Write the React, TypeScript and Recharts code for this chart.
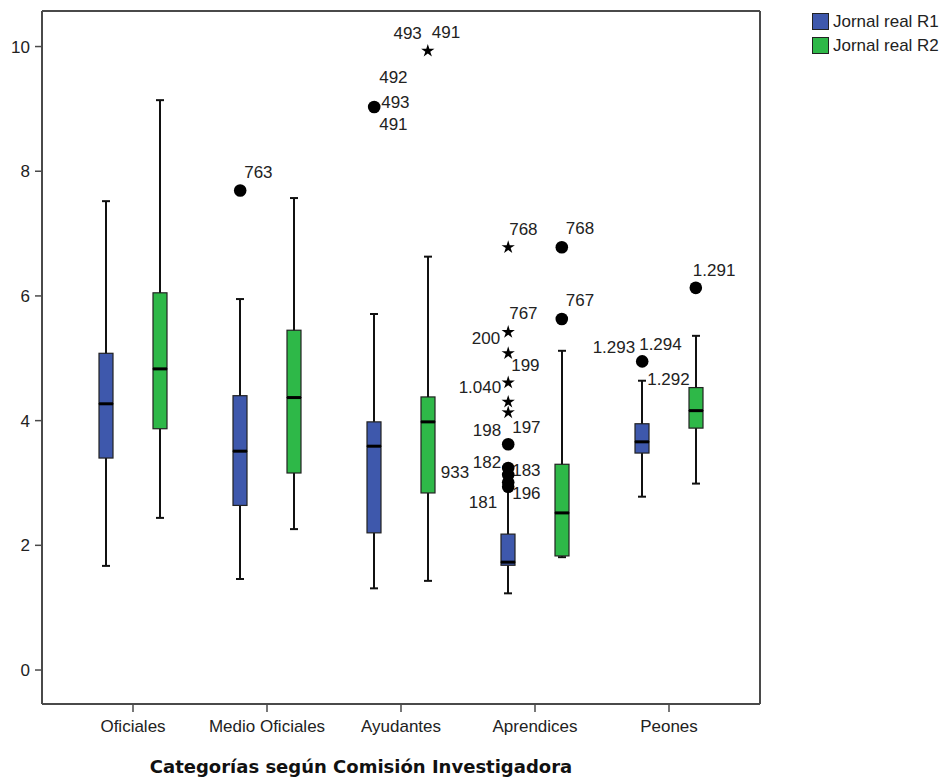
import React from 'react';
import { ComposedChart, Bar, Scatter, XAxis, YAxis } from 'recharts';

if (typeof document !== 'undefined') {
  document.body.style.margin = '0';
}

const FONT = '"Liberation Sans", Arial, Helvetica, sans-serif';

const categories = ['Oficiales', 'Medio Oficiales', 'Ayudantes', 'Aprendices', 'Peones'];

// Jornal real R1
const r1Min = [1.67, 1.46, 1.31, 1.23, 2.78];
const r1Q1 = [3.4, 2.64, 2.2, 1.68, 3.48];
const r1Median = [4.27, 3.51, 3.59, 1.73, 3.66];
const r1Q3 = [5.08, 4.4, 3.98, 2.18, 3.95];
const r1Max = [7.52, 5.95, 5.71, 2.91, 4.64];

// Jornal real R2
const r2Min = [2.44, 2.26, 1.43, 1.81, 2.99];
const r2Q1 = [3.87, 3.16, 2.84, 1.83, 3.88];
const r2Median = [4.83, 4.37, 3.98, 2.52, 4.16];
const r2Q3 = [6.05, 5.45, 4.38, 3.3, 4.53];
const r2Max = [9.14, 7.57, 6.63, 5.12, 5.36];

const yTicks = [0, 2, 4, 6, 8, 10];

const seriesNames = ['Jornal real R1', 'Jornal real R2'];
const seriesColors = ['#3E58AC', '#2EB848'];

// outliers: category index, series, value, marker, case labels
const outliers = [
  { cat: 1, series: 'R1', value: 7.69, marker: 'circle', labels: ['763'] },
  { cat: 2, series: 'R1', value: 9.03, marker: 'circle', labels: ['492', '493', '491'] },
  { cat: 2, series: 'R2', value: 9.93, marker: 'star', labels: ['493', '491'] },
  { cat: 3, series: 'R1', value: 6.78, marker: 'star', labels: ['768'] },
  { cat: 3, series: 'R1', value: 5.42, marker: 'star', labels: ['767', '200'] },
  { cat: 3, series: 'R1', value: 5.08, marker: 'star', labels: ['199'] },
  { cat: 3, series: 'R1', value: 4.61, marker: 'star', labels: ['1.040'] },
  { cat: 3, series: 'R1', value: 4.3, marker: 'star', labels: [] as string[] },
  { cat: 3, series: 'R1', value: 4.13, marker: 'star', labels: ['197'] },
  { cat: 3, series: 'R1', value: 3.62, marker: 'circle', labels: ['198'] },
  { cat: 3, series: 'R1', value: 3.24, marker: 'circle', labels: ['182', '183'] },
  { cat: 3, series: 'R1', value: 3.13, marker: 'circle', labels: ['933'] },
  { cat: 3, series: 'R1', value: 3.01, marker: 'circle', labels: [] as string[] },
  { cat: 3, series: 'R1', value: 2.94, marker: 'circle', labels: ['196', '181'] },
  { cat: 3, series: 'R2', value: 6.78, marker: 'circle', labels: ['768'] },
  { cat: 3, series: 'R2', value: 5.63, marker: 'circle', labels: ['767'] },
  { cat: 4, series: 'R1', value: 4.95, marker: 'circle', labels: ['1.293', '1.294', '1.292'] },
  { cat: 4, series: 'R2', value: 6.13, marker: 'circle', labels: ['1.291'] },
];

// label placement for each outlier label: [anchor, dx, dy]
const outlierLabelLayout: [string, number, number][][] = [
  [['start', 4, -19]],
  [['start', 5, -30], ['start', 7, -5], ['start', 5, 17]],
  [['end', -6, -18], ['start', 4, -19]],
  [['start', 1, -18]],
  [['start', 1, -19], ['end', -8, 6]],
  [['start', 3, 12]],
  [['end', -7, 4]],
  [],
  [['start', 4, 14]],
  [['end', -7, -14]],
  [['end', -7, -6], ['start', 4, 2]],
  [['end', -39, -3]],
  [],
  [['start', 4, 6], ['end', -11, 15]],
  [['start', 4, -19]],
  [['start', 4, -19]],
  [['end', -7, -15], ['start', -3, -18], ['start', 5, 17]],
  [['start', -3, -18]],
];

const SERIES_OFFSET = 0.2;

const boxData = categories.map((c, i) => ({
  cat: c,
  r1Base: r1Min[i],
  r1Low: r1Q1[i] - r1Min[i],
  r1BoxLow: r1Median[i] - r1Q1[i],
  r1BoxUp: r1Q3[i] - r1Median[i],
  r1Up: r1Max[i] - r1Q3[i],
  r2Base: r2Min[i],
  r2Low: r2Q1[i] - r2Min[i],
  r2BoxLow: r2Median[i] - r2Q1[i],
  r2BoxUp: r2Q3[i] - r2Median[i],
  r2Up: r2Max[i] - r2Q3[i],
}));

const outlierData = outliers.map((o, i) => ({
  x: o.cat + (o.series === 'R1' ? -SERIES_OFFSET : SERIES_OFFSET),
  y: o.value,
  marker: o.marker,
  labels: o.labels,
  layout: outlierLabelLayout[i],
}));

const FRAME = '#4a4a4a';
const INK = '#111111';

const EmptyShape = () => <g />;

const LowWhisker = (p: any) => {
  const { x, y, width, height } = p;
  const cx = x + width / 2;
  return (
    <g>
      <line x1={cx} x2={cx} y1={y} y2={y + height} stroke={INK} strokeWidth={2} />
      <line x1={cx - 4} x2={cx + 4} y1={y + height} y2={y + height} stroke={INK} strokeWidth={2} />
    </g>
  );
};

const UpWhisker = (p: any) => {
  const { x, y, width, height } = p;
  const cx = x + width / 2;
  return (
    <g>
      <line x1={cx} x2={cx} y1={y} y2={y + height} stroke={INK} strokeWidth={2} />
      <line x1={cx - 4} x2={cx + 4} y1={y} y2={y} stroke={INK} strokeWidth={2} />
    </g>
  );
};

const makeBoxLow = (fill: string) => (p: any) => {
  const { x, y, width, height } = p;
  return <rect x={x} y={y} width={width} height={Math.max(height, 0)} fill={fill} stroke="#222" strokeWidth={1.2} />;
};

const makeBoxUp = (fill: string) => (p: any) => {
  const { x, y, width, height } = p;
  return (
    <g>
      <rect x={x} y={y} width={width} height={Math.max(height, 0)} fill={fill} stroke="#222" strokeWidth={1.2} />
      <line x1={x} x2={x + width} y1={y + height} y2={y + height} stroke="#000" strokeWidth={3} />
    </g>
  );
};

const starPoints = (cx: number, cy: number, ro: number, ri: number) => {
  const pts: string[] = [];
  for (let k = 0; k < 10; k++) {
    const r = k % 2 === 0 ? ro : ri;
    const a = -Math.PI / 2 + (k * Math.PI) / 5;
    pts.push(`${cx + r * Math.cos(a)},${cy + r * Math.sin(a)}`);
  }
  return pts.join(' ');
};

const OutlierShape = (props: any) => {
  const { cx, cy } = props;
  const d = props.payload ?? props;
  if (cx == null || cy == null) return <g />;
  return (
    <g>
      {d.marker === 'circle' ? (
        <circle cx={cx} cy={cy} r={6.3} fill="#000" />
      ) : (
        <polygon points={starPoints(cx, cy, 7, 2.6)} fill="#000" />
      )}
      {(d.labels as string[]).map((lab, j) => {
        const [anchor, dx, dy] = d.layout[j];
        return (
          <text
            key={j}
            x={cx + dx}
            y={cy + dy}
            dy="0.36em"
            textAnchor={anchor}
            fontSize={17}
            fontFamily={FONT}
            fill="#222"
          >
            {lab}
          </text>
        );
      })}
    </g>
  );
};

export default function App() {
  return (
    <div style={{ position: 'relative', width: 942, height: 780, overflow: 'hidden', background: '#fff' }}>
      <ComposedChart
        width={942}
        height={780}
        data={boxData}
        margin={{ top: 10, right: 181, bottom: 36, left: 0 }}
        barSize={14}
        barGap={40}
      >
        <XAxis
          dataKey="cat"
          type="category"
          padding={{ left: 24, right: 24 }}
          height={40}
          tickSize={8}
          tickMargin={8}
          axisLine={{ stroke: FRAME, strokeWidth: 2 }}
          tickLine={{ stroke: FRAME, strokeWidth: 1.5 }}
          tick={{ fill: '#222', fontSize: 17, fontFamily: FONT }}
          interval={0}
        />
        <XAxis
          xAxisId="num"
          dataKey="x"
          type="number"
          orientation="top"
          domain={[-0.5, 4.5]}
          allowDataOverflow
          padding={{ left: 24, right: 24 }}
          height={1}
          tick={false}
          tickLine={false}
          axisLine={{ stroke: FRAME, strokeWidth: 2 }}
        />
        <YAxis
          type="number"
          domain={[-0.545, 10.57]}
          allowDataOverflow
          ticks={yTicks}
          width={42}
          tickSize={7}
          tickMargin={5}
          axisLine={{ stroke: FRAME, strokeWidth: 2 }}
          tickLine={{ stroke: FRAME, strokeWidth: 1.5 }}
          tick={{ fill: '#222', fontSize: 17, fontFamily: FONT }}
        />
        <YAxis
          yAxisId="right"
          orientation="right"
          type="number"
          domain={[0, 1]}
          width={1}
          tick={false}
          tickLine={false}
          axisLine={{ stroke: FRAME, strokeWidth: 2 }}
        />

        <Bar dataKey="r1Base" stackId="r1" shape={EmptyShape} isAnimationActive={false} />
        <Bar dataKey="r1Low" stackId="r1" shape={LowWhisker} isAnimationActive={false} />
        <Bar dataKey="r1BoxLow" stackId="r1" shape={makeBoxLow(seriesColors[0])} isAnimationActive={false} />
        <Bar dataKey="r1BoxUp" stackId="r1" shape={makeBoxUp(seriesColors[0])} isAnimationActive={false} />
        <Bar dataKey="r1Up" stackId="r1" shape={UpWhisker} isAnimationActive={false} />

        <Bar dataKey="r2Base" stackId="r2" shape={EmptyShape} isAnimationActive={false} />
        <Bar dataKey="r2Low" stackId="r2" shape={LowWhisker} isAnimationActive={false} />
        <Bar dataKey="r2BoxLow" stackId="r2" shape={makeBoxLow(seriesColors[1])} isAnimationActive={false} />
        <Bar dataKey="r2BoxUp" stackId="r2" shape={makeBoxUp(seriesColors[1])} isAnimationActive={false} />
        <Bar dataKey="r2Up" stackId="r2" shape={UpWhisker} isAnimationActive={false} />

        <Scatter
          data={outlierData}
          xAxisId="num"
          dataKey="y"
          shape={OutlierShape}
          isAnimationActive={false}
        />
      </ComposedChart>

      <div
        style={{
          position: 'absolute',
          left: 61,
          top: 758,
          width: 600,
          textAlign: 'center',
          fontFamily: '"DejaVu Sans", Verdana, sans-serif',
          fontWeight: 'bold',
          fontSize: 18,
          lineHeight: '18px',
          color: '#111',
          whiteSpace: 'nowrap',
        }}
      >
        Categorías según Comisión Investigadora
      </div>

      <div style={{ position: 'absolute', left: 812, top: 13, fontFamily: FONT, whiteSpace: 'nowrap' }}>
        {seriesNames.map((name, i) => (
          <div key={name} style={{ display: 'flex', alignItems: 'center', height: 17, marginBottom: 7 }}>
            <div
              style={{
                width: 17,
                height: 17,
                boxSizing: 'border-box',
                background: seriesColors[i],
                border: '1.5px solid #222',
              }}
            />
            <span style={{ marginLeft: 4, fontSize: 17, lineHeight: '17px', color: '#222' }}>{name}</span>
          </div>
        ))}
      </div>
    </div>
  );
}
